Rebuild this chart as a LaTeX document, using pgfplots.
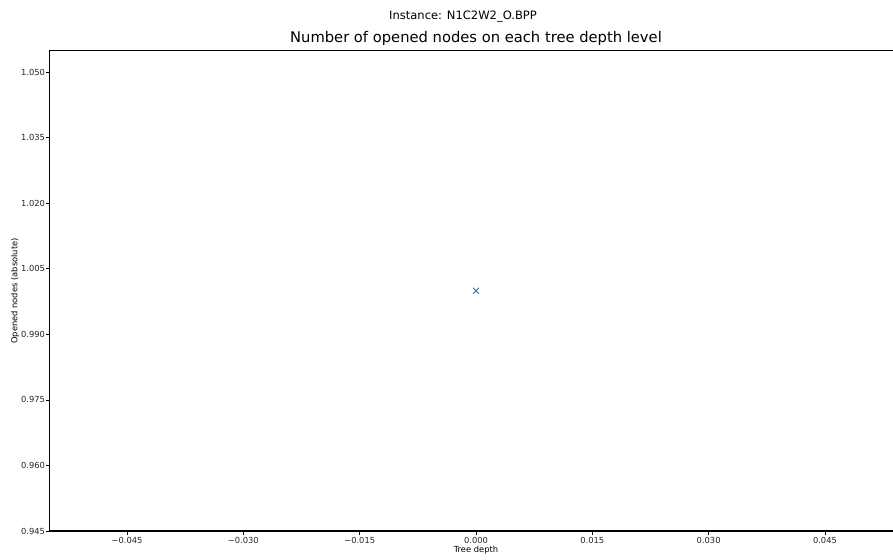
\documentclass[border=0pt]{standalone}
\usepackage{fontspec}
\setmainfont{DejaVu Sans}
\usepackage{pgfplots}
\pgfplotsset{compat=1.18}
\definecolor{c0}{HTML}{1F77B4}
\begin{document}
\begin{tikzpicture}
\def\u{0.72pt}
\begin{axis}[
  at={(0,0)}, anchor=south west,
  scale only axis,
  width={853*\u}, height={480.5*\u},
  xmin=-0.055, xmax=0.055, ymin=0.945, ymax=1.055,
  scaled ticks=false,
  xtick={-0.045,-0.030,-0.015,0,0.015,0.030,0.045},
  xticklabels={−0.045,−0.030,−0.015,0.000,0.015,0.030,0.045},
  ytick={0.945,0.960,0.975,0.990,1.005,1.020,1.035,1.050},
  yticklabels={0.945,0.960,0.975,0.990,1.005,1.020,1.035,1.050},
  tick align=outside,
  major tick length={3.5*\u},
  tick style={black, line width=0.6pt},
  axis line style={line width=0.8pt},
  xtick pos=bottom, ytick pos=left,
  ticklabel style={font=\fontsize{6}{7}\selectfont, text=black!85, inner sep=0pt},
  xticklabel style={anchor=north, yshift=-1.5pt},
  yticklabel style={anchor=east, xshift=-0.5pt},
]
\addplot[only marks, mark=x, mark size=3pt, color=c0, line width=0.75pt] coordinates {(0,1)};
\end{axis}
\node[anchor=base, font=\fontsize{10.6}{12}\selectfont] at ({426.5*\u},{488*\u}) {Number of opened nodes on each tree depth level};
\node[anchor=base, font=\fontsize{8.3}{10}\selectfont] at ({413.5*\u},{511.5*\u}) {Instance: N1C2W2\_O.BPP};
\node[anchor=base, font=\fontsize{6}{7}\selectfont] at ({426.5*\u},{-21.5*\u}) {Tree depth};
\node[rotate=90, font=\fontsize{6}{7}\selectfont] at ({-34.5*\u},{240*\u}) {Opened nodes (absolute)};
\pgfresetboundingbox
\useasboundingbox ({-49.5*\u},{-28*\u}) rectangle ({843.5*\u},{531*\u});
\end{tikzpicture}
\end{document}
